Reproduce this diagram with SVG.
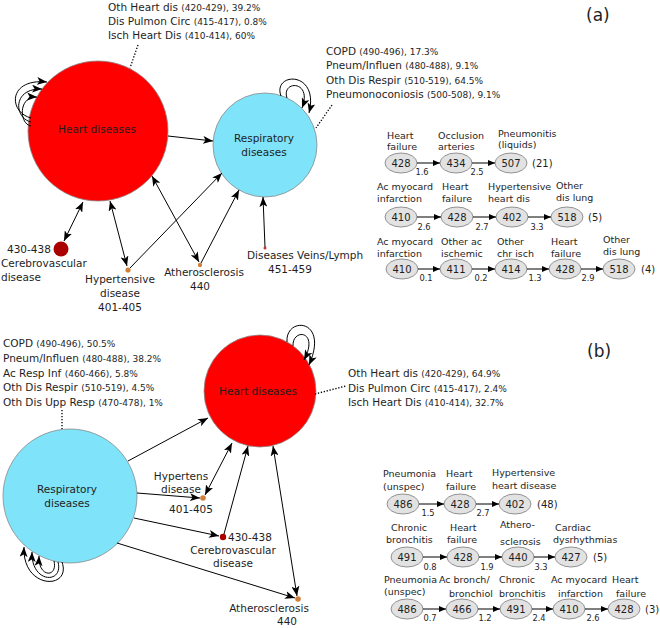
<svg xmlns="http://www.w3.org/2000/svg" width="660" height="628" viewBox="0 0 660 628">
<defs>
<marker id="ah" markerUnits="userSpaceOnUse" markerWidth="11" markerHeight="8" refX="10" refY="4" orient="auto-start-reverse"><path d="M0,0 L10,4 L0,8 L2.5,4 z" fill="#000"/></marker>
<marker id="sh" markerUnits="userSpaceOnUse" markerWidth="7" markerHeight="6" refX="7" refY="3" orient="auto"><path d="M0,0 L7,3 L0,6 z" fill="#000"/></marker>
<style>
text{font-family:"DejaVu Sans","Liberation Sans",sans-serif;fill:#1e1e1e}
.l{font-size:10.5px}
.p{font-size:9px}
.m{text-anchor:middle}
.hd{font-size:9.5px}
.nm{font-size:10px;text-anchor:middle}
.w{font-size:8.3px;text-anchor:middle}
.ct{font-size:10px}
.pl{font-size:17px}
.e{stroke:#000;stroke-width:1;fill:none}
.dt{stroke:#000;stroke-width:1.3;stroke-dasharray:1.3 1.7;fill:none}
.el{fill:#e2e2e2;stroke:#7a7a7a;stroke-width:0.8}
.ca{stroke:#000;stroke-width:1;fill:none}
</style>
</defs>

<!-- Panel (a) -->
<text class="pl" x="586" y="21">(a)</text>

<g id="a-heart">
<circle cx="98" cy="131" r="70" fill="#ff0000" stroke="#8a8a8a" stroke-width="0.8"/>
<text class="l m" x="97" y="133">Heart diseases</text>
<text class="l" x="108" y="11">Oth Heart dis <tspan class="p">(420-429), 39.2%</tspan></text>
<text class="l" x="108" y="25">Dis Pulmon Circ <tspan class="p">(415-417), 0.8%</tspan></text>
<text class="l" x="108" y="39">Isch Heart Dis <tspan class="p">(410-414), 60%</tspan></text>
</g>

<g id="a-resp">
<circle cx="265" cy="145" r="52" fill="#7fe3f9" stroke="#8a8a8a" stroke-width="0.8"/>
<text class="l m" x="264" y="142">Respiratory</text>
<text class="l m" x="264" y="156">diseases</text>
<text class="l" x="326" y="55">COPD <tspan class="p">(490-496), 17.3%</tspan></text>
<text class="l" x="326" y="69">Pneum/Influen <tspan class="p">(480-488), 9.1%</tspan></text>
<text class="l" x="326" y="84">Oth Dis Respir <tspan class="p">(510-519), 64.5%</tspan></text>
<text class="l" x="326" y="98">Pneumonoconiosis <tspan class="p">(500-508), 9.1%</tspan></text>
</g>

<g id="a-cerebro">
<circle cx="61" cy="249" r="7.5" fill="#aa0000"/>
<text class="l" x="7" y="253">430-438</text>
<text class="l" x="1" y="267">Cerebrovascular</text>
<text class="l" x="1" y="281">disease</text>
</g>

<g id="a-hyper">
<circle cx="128" cy="270" r="2.6" fill="#d0803c"/>
<text class="l m" x="120" y="283">Hypertensive</text>
<text class="l m" x="120" y="297">disease</text>
<text class="l m" x="120" y="311">401-405</text>
</g>

<g id="a-athero">
<circle cx="200" cy="265" r="2.2" fill="#d0803c"/>
<text class="l m" x="204" y="276">Atherosclerosis</text>
<text class="l m" x="200" y="290">440</text>
</g>

<g id="a-veins">
<circle cx="265" cy="248" r="1.5" fill="#d03030"/>
<text class="l" x="247" y="259">Diseases Veins/Lymph</text>
<text class="l" x="268" y="273">451-459</text>
</g>

<g id="a-connectors">
<path class="dt" d="M138,45 L130,68"/>
<path class="dt" d="M332,105 L316,128"/>
<path class="e" d="M31,118 C8,112 8,78 47,82" marker-end="url(#ah)"/>
<path class="e" d="M31,122 C14,118 12,88 42,89" marker-end="url(#ah)"/>
<path class="e" d="M31,126 C19,124 18,96 37,97" marker-end="url(#ah)"/>
<path class="e" d="M281,96 C272,72 320,70 309,113" marker-end="url(#ah)"/>
<path class="e" d="M287,98 C281,80 313,80 302,108" marker-end="url(#ah)"/>
<path class="e" d="M168,136 L213,141" marker-end="url(#ah)"/>
<path class="e" d="M83,202 L64,241" marker-start="url(#ah)" marker-end="url(#ah)"/>
<path class="e" d="M110,201 L127,266" marker-start="url(#ah)" marker-end="url(#ah)"/>
<path class="e" d="M130,268 L222,173" marker-end="url(#ah)"/>
<path class="e" d="M152,176 L199,262" marker-start="url(#ah)" marker-end="url(#ah)"/>
<path class="e" d="M201,263 L239,190" marker-end="url(#ah)"/>
<path class="e" d="M265,247 L263,197" marker-end="url(#ah)"/>
</g>

<!-- Chains (a) -->
<g id="a-chain1">
<text class="hd" x="387" y="139">Heart</text><text class="hd" x="387" y="150">failure</text>
<text class="hd" x="438" y="139">Occlusion</text><text class="hd" x="438" y="150">arteries</text>
<text class="hd" x="498" y="137">Pneumonitis</text><text class="hd" x="498" y="148">(liquids)</text>
<ellipse class="el" cx="401" cy="163" rx="16" ry="10"/><text class="nm" x="401" y="166.5">428</text>
<ellipse class="el" cx="456" cy="163" rx="16" ry="10"/><text class="nm" x="456" y="166.5">434</text>
<ellipse class="el" cx="511" cy="163" rx="16" ry="10"/><text class="nm" x="511" y="166.5">507</text>
<path class="ca" d="M417,163 L440,163" marker-end="url(#sh)"/>
<path class="ca" d="M472,163 L495,163" marker-end="url(#sh)"/>
<text class="w" x="422" y="175">1.6</text><text class="w" x="477" y="175">2.5</text>
<text class="ct" x="532" y="167">(21)</text>
</g>

<g id="a-chain2">
<text class="hd" x="377" y="190">Ac myocard</text><text class="hd" x="377" y="202">infarction</text>
<text class="hd" x="442" y="190">Heart</text><text class="hd" x="442" y="202">failure</text>
<text class="hd" x="488" y="190">Hypertensive</text><text class="hd" x="488" y="202">heart dis</text>
<text class="hd" x="556" y="189">Other</text><text class="hd" x="556" y="201">dis lung</text>
<ellipse class="el" cx="401" cy="217" rx="16" ry="10"/><text class="nm" x="401" y="220.5">410</text>
<ellipse class="el" cx="457" cy="217" rx="16" ry="10"/><text class="nm" x="457" y="220.5">428</text>
<ellipse class="el" cx="512" cy="217" rx="16" ry="10"/><text class="nm" x="512" y="220.5">402</text>
<ellipse class="el" cx="567" cy="217" rx="16" ry="10"/><text class="nm" x="567" y="220.5">518</text>
<path class="ca" d="M417,217 L441,217" marker-end="url(#sh)"/>
<path class="ca" d="M473,217 L496,217" marker-end="url(#sh)"/>
<path class="ca" d="M528,217 L551,217" marker-end="url(#sh)"/>
<text class="w" x="424" y="230">2.6</text><text class="w" x="482" y="230">2.7</text><text class="w" x="537" y="230">3.3</text>
<text class="ct" x="588" y="221">(5)</text>
</g>

<g id="a-chain3">
<text class="hd" x="377" y="245">Ac myocard</text><text class="hd" x="377" y="257">infarction</text>
<text class="hd" x="441" y="245">Other ac</text><text class="hd" x="441" y="257">ischemic</text>
<text class="hd" x="497" y="245">Other</text><text class="hd" x="497" y="257">chr isch</text>
<text class="hd" x="551" y="245">Heart</text><text class="hd" x="551" y="257">failure</text>
<text class="hd" x="603" y="243">Other</text><text class="hd" x="603" y="255">dis lung</text>
<ellipse class="el" cx="402" cy="269" rx="16" ry="10"/><text class="nm" x="402" y="272.5">410</text>
<ellipse class="el" cx="456" cy="269" rx="16" ry="10"/><text class="nm" x="456" y="272.5">411</text>
<ellipse class="el" cx="511" cy="269" rx="16" ry="10"/><text class="nm" x="511" y="272.5">414</text>
<ellipse class="el" cx="565" cy="269" rx="16" ry="10"/><text class="nm" x="565" y="272.5">428</text>
<ellipse class="el" cx="619" cy="269" rx="16" ry="10"/><text class="nm" x="619" y="272.5">518</text>
<path class="ca" d="M418,269 L440,269" marker-end="url(#sh)"/>
<path class="ca" d="M472,269 L495,269" marker-end="url(#sh)"/>
<path class="ca" d="M527,269 L549,269" marker-end="url(#sh)"/>
<path class="ca" d="M581,269 L603,269" marker-end="url(#sh)"/>
<text class="w" x="426" y="281">0.1</text><text class="w" x="481" y="281">0.2</text><text class="w" x="535" y="281">1.3</text><text class="w" x="588" y="281">2.9</text>
<text class="ct" x="641" y="273">(4)</text>
</g>

<!-- Panel (b) -->
<text class="pl" x="587" y="357">(b)</text>

<g id="b-heart">
<circle cx="260" cy="391" r="56" fill="#ff0000" stroke="#8a8a8a" stroke-width="0.8"/>
<text class="l m" x="258" y="395">Heart diseases</text>
<text class="l" x="348" y="377">Oth Heart dis <tspan class="p">(420-429), 64.9%</tspan></text>
<text class="l" x="348" y="392">Dis Pulmon Circ <tspan class="p">(415-417), 2.4%</tspan></text>
<text class="l" x="348" y="406">Isch Heart Dis <tspan class="p">(410-414), 32.7%</tspan></text>
</g>

<g id="b-resp">
<circle cx="70" cy="496" r="67" fill="#7fe3f9" stroke="#8a8a8a" stroke-width="0.8"/>
<text class="l m" x="67" y="493">Respiratory</text>
<text class="l m" x="67" y="507">diseases</text>
<text class="l" x="3" y="347">COPD <tspan class="p">(490-496), 50.5%</tspan></text>
<text class="l" x="3" y="362">Pneum/Influen <tspan class="p">(480-488), 38.2%</tspan></text>
<text class="l" x="3" y="377">Ac Resp Inf <tspan class="p">(460-466), 5.8%</tspan></text>
<text class="l" x="3" y="391">Oth Dis Respir <tspan class="p">(510-519), 4.5%</tspan></text>
<text class="l" x="3" y="406">Oth Dis Upp Resp <tspan class="p">(470-478), 1%</tspan></text>
</g>

<g id="b-hyper">
<circle cx="203" cy="498" r="2.8" fill="#d0803c"/>
<text class="l m" x="181" y="480">Hypertens</text>
<text class="l m" x="181" y="493">disease</text>
<text class="l m" x="191" y="513">401-405</text>
</g>

<g id="b-cerebro">
<circle cx="223" cy="537" r="3.2" fill="#aa0000"/>
<text class="l" x="228" y="541">430-438</text>
<text class="l m" x="233" y="554">Cerebrovascular</text>
<text class="l m" x="233" y="567">disease</text>
</g>

<g id="b-athero">
<circle cx="298" cy="599" r="2.8" fill="#d0803c"/>
<text class="l m" x="269" y="612">Atherosclerosis</text>
<text class="l m" x="287" y="625">440</text>
</g>

<g id="b-connectors">
<path class="dt" d="M62,410 L62,429"/>
<path class="dt" d="M315,394 L346,386"/>
<path class="e" d="M287,342 C285,316 330,318 309,365" marker-end="url(#ah)"/>
<path class="e" d="M293,346 C292,328 320,330 304,360" marker-end="url(#ah)"/>
<path class="e" d="M62,562 C72,590 22,590 24,547" marker-end="url(#ah)"/>
<path class="e" d="M58,562 C64,584 31,584 32,552" marker-end="url(#ah)"/>
<path class="e" d="M54,561 C58,578 38,578 39,556" marker-end="url(#ah)"/>
<path class="e" d="M128,461 L208,418" marker-end="url(#ah)"/>
<path class="e" d="M232,443 L205,495" marker-start="url(#ah)" marker-end="url(#ah)"/>
<path class="e" d="M137,493 L200,498" marker-end="url(#ah)"/>
<path class="e" d="M224,534 L248,446" marker-end="url(#ah)"/>
<path class="e" d="M134,518 L219,536" marker-end="url(#ah)"/>
<path class="e" d="M273,446 L297,596" marker-start="url(#ah)" marker-end="url(#ah)"/>
<path class="e" d="M117,543 L295,598" marker-end="url(#ah)"/>
</g>

<!-- Chains (b) -->
<g id="b-chain1">
<text class="hd" x="383" y="477">Pneumonia</text><text class="hd" x="383" y="490">(unspec)</text>
<text class="hd" x="446" y="477">Heart</text><text class="hd" x="446" y="490">failure</text>
<text class="hd" x="492" y="476">Hypertensive</text><text class="hd" x="492" y="489">heart disease</text>
<ellipse class="el" cx="403" cy="504" rx="16" ry="10"/><text class="nm" x="403" y="507.5">486</text>
<ellipse class="el" cx="460" cy="504" rx="16" ry="10"/><text class="nm" x="460" y="507.5">428</text>
<ellipse class="el" cx="515" cy="504" rx="16" ry="10"/><text class="nm" x="515" y="507.5">402</text>
<path class="ca" d="M419,504 L444,504" marker-end="url(#sh)"/>
<path class="ca" d="M476,504 L499,504" marker-end="url(#sh)"/>
<text class="w" x="428" y="516">1.5</text><text class="w" x="483" y="516">2.7</text>
<text class="ct" x="537" y="508">(48)</text>
</g>

<g id="b-chain2">
<text class="hd" x="391" y="531">Chronic</text><text class="hd" x="386" y="543">bronchitis</text>
<text class="hd" x="450" y="531">Heart</text><text class="hd" x="447" y="543">failure</text>
<text class="hd" x="500" y="528">Athero-</text><text class="hd" x="500" y="545">sclerosis</text>
<text class="hd" x="555" y="531">Cardiac</text><text class="hd" x="553" y="543">dysrhythmias</text>
<ellipse class="el" cx="407" cy="557" rx="16" ry="10"/><text class="nm" x="407" y="560.5">491</text>
<ellipse class="el" cx="463" cy="557" rx="16" ry="10"/><text class="nm" x="463" y="560.5">428</text>
<ellipse class="el" cx="518" cy="557" rx="16" ry="10"/><text class="nm" x="518" y="560.5">440</text>
<ellipse class="el" cx="571" cy="557" rx="16" ry="10"/><text class="nm" x="571" y="560.5">427</text>
<path class="ca" d="M423,557 L447,557" marker-end="url(#sh)"/>
<path class="ca" d="M479,557 L502,557" marker-end="url(#sh)"/>
<path class="ca" d="M534,557 L555,557" marker-end="url(#sh)"/>
<text class="w" x="430" y="570">0.8</text><text class="w" x="487" y="570">1.9</text><text class="w" x="541" y="570">3.3</text>
<text class="ct" x="593" y="561">(5)</text>
</g>

<g id="b-chain3">
<text class="hd" x="384" y="583">Pneumonia</text><text class="hd" x="384" y="595">(unspec)</text>
<text class="hd" x="439" y="583">Ac bronch/</text><text class="hd" x="449" y="597">bronchiol</text>
<text class="hd" x="499" y="583">Chronic</text><text class="hd" x="499" y="597">bronchitis</text>
<text class="hd" x="551" y="583">Ac myocard</text><text class="hd" x="558" y="597">infarction</text>
<text class="hd" x="612" y="583">Heart</text><text class="hd" x="616" y="597">failure</text>
<ellipse class="el" cx="407" cy="609" rx="16" ry="10"/><text class="nm" x="407" y="612.5">486</text>
<ellipse class="el" cx="462" cy="609" rx="16" ry="10"/><text class="nm" x="462" y="612.5">466</text>
<ellipse class="el" cx="516" cy="609" rx="16" ry="10"/><text class="nm" x="516" y="612.5">491</text>
<ellipse class="el" cx="569" cy="609" rx="16" ry="10"/><text class="nm" x="569" y="612.5">410</text>
<ellipse class="el" cx="624" cy="609" rx="16" ry="10"/><text class="nm" x="624" y="612.5">428</text>
<path class="ca" d="M423,609 L446,609" marker-end="url(#sh)"/>
<path class="ca" d="M478,609 L500,609" marker-end="url(#sh)"/>
<path class="ca" d="M532,609 L553,609" marker-end="url(#sh)"/>
<path class="ca" d="M585,609 L608,609" marker-end="url(#sh)"/>
<text class="w" x="430" y="621">0.7</text><text class="w" x="485" y="621">1.2</text><text class="w" x="539" y="621">2.4</text><text class="w" x="593" y="621">2.6</text>
<text class="ct" x="645" y="613">(3)</text>
</g>
</svg>
